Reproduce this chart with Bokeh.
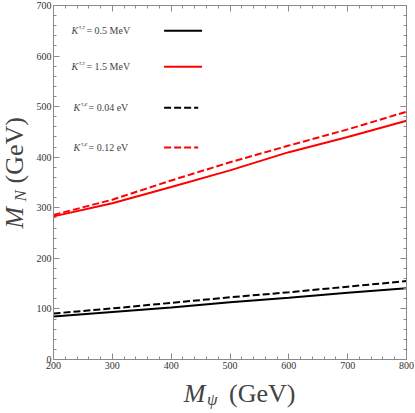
import math
from bokeh.plotting import figure
from bokeh.layouts import row, column
from bokeh.models import (ColumnDataSource, LinearAxis, Label, Range1d,
                          SingleIntervalTicker, CustomLabelingPolicy)
from bokeh.embed import file_html
from bokeh.resources import INLINE

# ---- data -------------------------------------------------------------
m_psi = [200, 300, 400, 500, 600, 700, 800]
mn_tt_05 = [85, 94, 103, 113, 122, 132, 141]          # black solid
mn_tt_15 = [283, 309, 341, 374, 410, 440, 472]        # red solid
mn_te_004 = [91, 101, 112, 123, 133, 144, 155]        # black dashed
mn_te_012 = [286, 316, 354, 390, 423, 455, 490]       # red dashed

series_labels = ["= 0.5 MeV", "= 1.5 MeV", "= 0.04 eV", "= 0.12 eV"]
series_sups = ["\u03c4,\u03c4", "\u03c4,\u03c4", "\u03c4,e", "\u03c4,e"]

# ---- styles -----------------------------------------------------------
SERIF = "Liberation Serif"
FRAME = "#8a8a8a"
styles = [
    dict(color="black", dash="solid"),
    dict(color="#ff0000", dash="solid"),
    dict(color="black", dash="7 3"),
    dict(color="#ff0000", dash="7 3"),
]
series = [mn_tt_05, mn_tt_15, mn_te_004, mn_te_012]

YT_W = 32
MAIN_W, MAIN_H = 382, 374
XT_H = 38

p = figure(width=MAIN_W, height=MAIN_H, output_backend="svg", toolbar_location=None,
           x_range=Range1d(200, 800), y_range=Range1d(0, 700),
           min_border_left=21, min_border_right=8, min_border_top=5,
           min_border_bottom=15, x_axis_location=None, y_axis_location=None)
p.grid.visible = False
p.outline_line_color = FRAME
p.background_fill_color = "white"
p.border_fill_color = "white"

def make_axis(show_labels):
    ax = LinearAxis(ticker=SingleIntervalTicker(interval=100, num_minor_ticks=5))
    ax.axis_line_color = FRAME
    ax.major_tick_line_color = FRAME
    ax.minor_tick_line_color = FRAME
    ax.major_tick_in = 6
    ax.major_tick_out = 0
    ax.minor_tick_in = 3
    ax.minor_tick_out = 0
    ax.major_label_text_font = SERIF
    ax.major_label_text_color = "#333333"
    if show_labels:
        ax.major_label_text_font_size = "10px"
        ax.major_label_standoff = 2
    else:
        ax.major_label_text_font_size = "1px"
        ax.major_label_standoff = 0
        ax.major_label_policy = CustomLabelingPolicy(code="return []")
    return ax

p.add_layout(make_axis(True), "below")
p.add_layout(make_axis(True), "left")
p.add_layout(make_axis(False), "above")
p.add_layout(make_axis(False), "right")

for ys, st in zip(series, styles):
    src = ColumnDataSource(dict(x=m_psi, y=ys))
    p.line("x", "y", source=src, line_color=st["color"], line_width=2,
           line_dash=st["dash"])

# ---- legend (drawn by hand: label left, sample right) ------------------
leg_y = [650, 579, 498, 419]
leg_k_x = [230.5, 230.5, 234, 234]
for i in range(4):
    y = leg_y[i]
    kx = leg_k_x[i]
    p.add_layout(Label(x=kx, y=y, text="K", text_font=SERIF,
                       text_font_style="italic", text_font_size="10px",
                       text_baseline="middle"))
    p.add_layout(Label(x=kx + 13, y=y + 7, text=series_sups[i], text_font=SERIF,
                       text_font_style="italic", text_font_size="6px",
                       text_baseline="middle"))
    p.add_layout(Label(x=kx + 25.5, y=y, text=series_labels[i], text_font=SERIF,
                       text_font_size="10px", text_baseline="middle"))
    x_end = 452.5 if styles[i]["dash"] == "solid" else 446
    p.line([388, x_end], [y, y], line_color=styles[i]["color"], line_width=2,
           line_dash=styles[i]["dash"])

# ---- axis titles in their own small canvases (pixel coordinates) --------
def blank(w, h):
    f = figure(width=w, height=h, output_backend="svg", toolbar_location=None,
               x_range=Range1d(0, w), y_range=Range1d(0, h),
               min_border=0, x_axis_location=None, y_axis_location=None)
    f.grid.visible = False
    f.outline_line_color = None
    f.background_fill_color = "white"
    f.border_fill_color = "white"
    return f

yt = blank(YT_W, MAIN_H)
yt.add_layout(Label(x=14, y=146, text="M", text_font=SERIF,
                    text_font_style="italic", text_font_size="26px",
                    text_baseline="middle", text_align="left",
                    angle=math.pi / 2))
yt.add_layout(Label(x=20, y=173, text="N", text_font=SERIF,
                    text_font_style="italic", text_font_size="17px",
                    text_baseline="middle", text_align="left",
                    angle=math.pi / 2))
yt.add_layout(Label(x=14, y=191, text="(GeV)", text_font=SERIF,
                    text_font_size="26px",
                    text_baseline="middle", text_align="left",
                    angle=math.pi / 2))

xt = blank(MAIN_W, XT_H)
xt.add_layout(Label(x=141, y=19, text="M", text_font=SERIF,
                    text_font_style="italic", text_font_size="26px",
                    text_baseline="middle", text_align="left"))
xt.add_layout(Label(x=166, y=13, text="\u03c8", text_font=SERIF,
                    text_font_style="italic", text_font_size="17px",
                    text_baseline="middle", text_align="left"))
xt.add_layout(Label(x=190, y=19, text="(GeV)", text_font=SERIF,
                    text_font_size="26px",
                    text_baseline="middle", text_align="left"))

layout = row(yt, column(p, xt))
open("out.html", "w").write(file_html(layout, INLINE))
